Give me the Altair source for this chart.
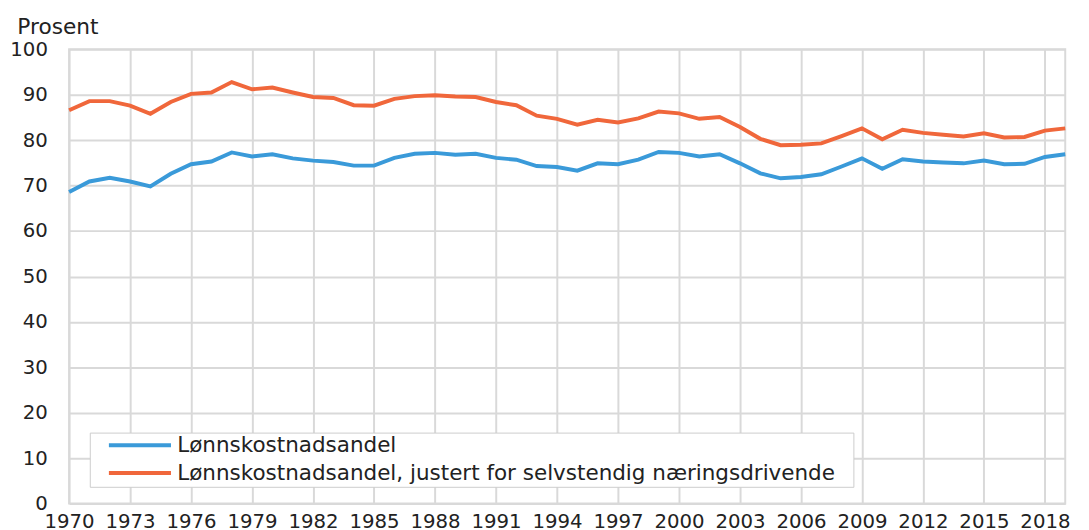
import altair as alt
import pandas as pd

years = list(range(1970, 2020))
blue_values = [
    68.6, 70.9, 71.7, 70.9, 69.8, 72.6, 74.7, 75.3, 77.3, 76.4,
    76.9, 76.0, 75.5, 75.2, 74.4, 74.4, 76.1, 77.0, 77.2, 76.8,
    77.0, 76.1, 75.7, 74.3, 74.1, 73.3, 74.9, 74.7, 75.7, 77.4,
    77.2, 76.4, 76.9, 74.9, 72.7, 71.6, 71.9, 72.5, 74.2, 76.0,
    73.7, 75.8, 75.3, 75.1, 74.9, 75.5, 74.7, 74.8, 76.3, 76.9,
]
orange_values = [
    86.6, 88.6, 88.6, 87.6, 85.8, 88.4, 90.2, 90.5, 92.8, 91.2,
    91.6, 90.5, 89.5, 89.3, 87.7, 87.6, 89.1, 89.7, 89.9, 89.6,
    89.5, 88.4, 87.7, 85.4, 84.7, 83.4, 84.5, 83.9, 84.8, 86.3,
    85.9, 84.7, 85.1, 82.9, 80.3, 78.9, 79.0, 79.3, 80.9, 82.6,
    80.2, 82.3, 81.6, 81.2, 80.8, 81.5, 80.6, 80.7, 82.1, 82.6,
]
series_names = [
    "Lønnskostnadsandel",
    "Lønnskostnadsandel, justert for selvstendig næringsdrivende",
]
series_colors = ["#3a9ad9", "#f0673b"]
x_tick_values = list(range(1970, 2019, 3))
y_tick_values = list(range(0, 101, 10))
y_title = "Prosent"

df = pd.DataFrame({
    "year": years + years,
    "value": blue_values + orange_values,
    "series": [series_names[0]] * len(years) + [series_names[1]] * len(years),
})

FONT = "DejaVu Sans"
TEXT = "#222222"
GRID = "#d9d9d9"
pad = "\u2800"

chart = alt.Chart(df).mark_line(strokeWidth=4).encode(
    x=alt.X(
        "year:Q",
        scale=alt.Scale(domain=[1970, 2019], nice=False, zero=False),
        axis=alt.Axis(
            values=x_tick_values, format="d", title=None, grid=True,
            gridColor=GRID, gridWidth=2, ticks=False, domain=False,
            labelFont=FONT, labelFontSize=20, labelColor=TEXT,
            labelPadding=8, labelFlush=False, labelOverlap=False,
            labelBaseline="top",
        ),
    ),
    y=alt.Y(
        "value:Q",
        scale=alt.Scale(domain=[0, 100], nice=False),
        axis=alt.Axis(
            values=y_tick_values, title=y_title, titleAngle=0,
            titleAlign="left", titleBaseline="alphabetic",
            titleX=-53, titleY=-16, titleFont=FONT, titleFontSize=22,
            titleFontWeight="normal", titleColor=TEXT,
            grid=True, gridColor=GRID, gridWidth=2, ticks=False, domain=False,
            labelFont=FONT, labelFontSize=20, labelColor=TEXT,
            labelPadding=22,
        ),
    ),
    color=alt.Color(
        "series:N",
        scale=alt.Scale(domain=series_names, range=series_colors),
        legend=alt.Legend(
            title=None, orient="none", legendX=21, legendY=389,
            fillColor="white", strokeColor="#cccccc", padding=2,
            symbolType="M-3.9375,0L3.9375,0", symbolSize=256,
            symbolStrokeWidth=4, symbolOffset=38, labelOffset=27,
            labelFont=FONT, labelFontSize=21.8, labelColor=TEXT,
            labelLimit=0, rowPadding=5,
            labelExpr="datum.label + '" + pad + "'",
        ),
    ),
).properties(
    width=1011,
    height=461,
    padding={"left": 62, "top": 38, "right": 16, "bottom": 30},
    autosize=alt.AutoSizeParams(type="none"),
).configure_view(stroke=GRID, strokeWidth=2)

chart.save("out.html", embed_options={"renderer": "svg", "actions": False})
